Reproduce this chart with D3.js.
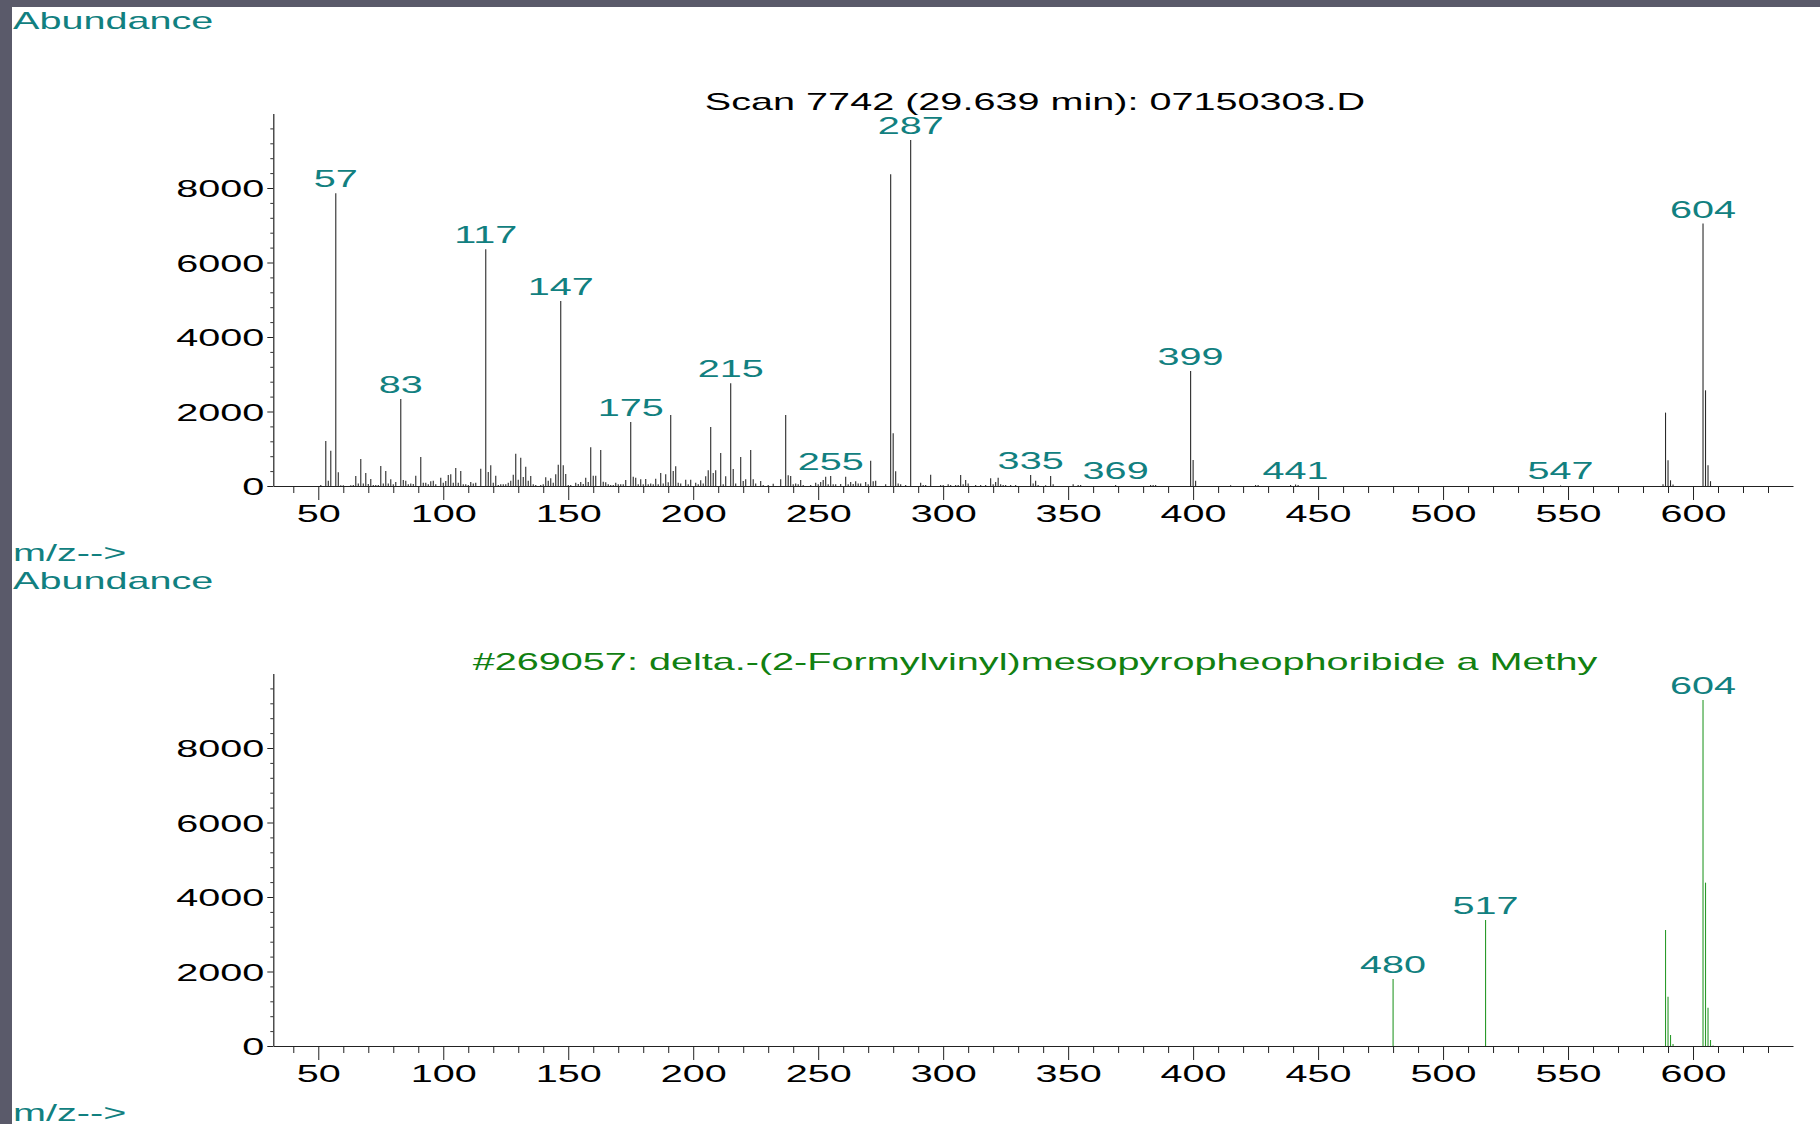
<!DOCTYPE html>
<html>
<head>
<meta charset="utf-8">
<script src="https://cdn.jsdelivr.net/npm/d3@7"></script>
<style>
  body { margin: 0; background: #ffffff; }
  svg { display: block; }
</style>
</head>
<body>
<div id="chart-container"></div>
<script>
// Scan spectrum (m/z, abundance)
const scanMz = [51,53,54,55,57,58,59,60,63,64,65,66,67,68,69,70,71,72,73,74,75,76,77,78,79,80,81,83,84,85,86,87,88,89,91,92,93,94,95,96,97,99,100,101,102,103,104,105,106,107,108,109,110,111,112,113,115,117,118,119,120,121,122,123,124,125,126,127,128,129,130,131,132,133,134,135,136,137,139,140,141,142,143,144,145,146,147,148,149,150,151,153,154,155,156,157,158,159,160,161,163,164,165,166,167,168,169,170,171,172,173,175,176,177,178,179,180,181,182,183,184,185,186,187,188,189,190,191,192,193,194,195,197,198,199,201,202,203,204,205,206,207,208,209,211,212,213,215,216,217,219,220,221,223,224,225,227,228,230,232,235,237,238,239,240,241,242,243,244,247,249,250,251,252,253,254,255,256,257,259,261,262,263,264,265,266,267,269,270,271,272,273,277,279,280,281,282,283,285,287,291,292,293,295,299,300,302,303,305,306,307,308,309,310,313,315,317,319,320,321,322,323,324,325,327,329,335,336,337,338,341,343,344,352,354,355,369,383,384,385,399,400,401,415,425,426,439,441,442,547,588,589,590,591,592,604,605,606,607];
const scanAb = [27,1208,143,949,7857,367,20,20,20,25,268,70,725,70,349,54,188,30,30,30,537,70,403,70,179,45,107,2336,161,143,45,70,54,277,779,90,90,45,125,143,45,224,90,134,295,313,90,483,90,403,45,45,27,107,70,90,465,6354,376,555,90,277,27,45,45,45,90,143,304,868,170,760,242,519,143,268,45,27,27,45,233,143,206,90,313,573,4966,555,322,27,27,90,54,107,54,224,107,1038,277,277,967,116,98,45,27,27,90,45,45,45,161,1718,250,224,45,179,45,188,45,70,45,197,45,349,70,313,98,1906,403,528,90,70,170,45,170,90,45,152,70,260,420,1584,349,420,886,45,260,2757,456,70,779,134,179,967,179,70,134,27,27,63,179,1906,286,268,45,70,45,161,27,27,90,45,107,161,250,45,268,45,45,54,250,45,107,54,125,70,70,107,45,680,125,143,45,8368,1414,394,70,45,27,9289,90,27,27,304,27,27,45,27,27,27,295,45,161,70,27,27,27,206,45,107,224,45,27,27,27,27,295,70,143,27,20,268,45,45,27,27,27,27,27,27,3087,698,143,20,30,30,30,40,30,15,50,1970,690,153,40,7044,2569,556,130];
const scanLabels = [57,83,117,147,175,215,255,287,335,369,399,441,547,604];
const scanTitle = 'Scan 7742 (29.639 min): 07150303.D';

// Library match spectrum
const libMz = [480,517,589,590,591,592,604,605,606,607,608];
const libAb = [1799,3383,3114,1324,295,54,9289,4385,1029,161,15];
const libLabels = [480,517,604];
const libTitle = '#269057: delta.-(2-Formylvinyl)mesopyropheophoribide a Methy';

// Axis ticks
const xMajorTicks = [50,100,150,200,250,300,350,400,450,500,550,600];
const xMinorTicks = d3.range(40, 631, 10).filter(v => v % 50 !== 0);
const yMajorTicks = [0,2000,4000,6000,8000];
const yMinorTicks = d3.range(400, 9601, 400).filter(v => v % 2000 !== 0);

const width = 1820;
const height = 1124;
const stretch = 1.65; // text in the screenshot is stretched horizontally
const teal = '#118080';
const fontFam = '"Liberation Sans", Arial, sans-serif';

const svg = d3.select('#chart-container')
  .append('svg')
  .attr('width', width)
  .attr('height', height);

svg.append('rect').attr('width', width).attr('height', height).attr('fill', '#ffffff');
// slide frame
svg.append('rect').attr('x', 0).attr('y', 0).attr('width', 12).attr('height', height).attr('fill', '#5a5a6a');
svg.append('rect').attr('x', 0).attr('y', 0).attr('width', width).attr('height', 7).attr('fill', '#5a5a6a');

const x = d3.scaleLinear().domain([32, 640]).range([273.3, 1793]);
const y = d3.scaleLinear().domain([0, 10000]).range([486, 113.5]);

function addText(g, tx, ty, str, color, anchor) {
  return g.append('text')
    .attr('transform', `translate(${tx},${ty}) scale(${stretch},1)`)
    .attr('text-anchor', anchor || 'start')
    .style('font-family', fontFam)
    .style('font-size', '24px')
    .attr('fill', color)
    .text(str);
}

function drawPanel(offsetY, mz, ab, labels, lineColor, title, titleColor) {
  const g = svg.append('g').attr('transform', `translate(0,${offsetY})`);

  addText(g, 13, 29, 'Abundance', teal);
  addText(g, 13, 561, 'm/z-->', teal);
  addText(g, 1035, 110, title, titleColor, 'middle');

  // x axis: minor + major ticks
  g.append('g')
    .attr('transform', `translate(0,${y(0)})`)
    .call(d3.axisBottom(x).tickValues(xMinorTicks).tickSize(7).tickSizeOuter(0).tickFormat(''))
    .call(a => a.select('.domain').remove())
    .selectAll('line').attr('stroke', '#222');

  const xa = g.append('g')
    .attr('transform', `translate(0,${y(0)})`)
    .call(d3.axisBottom(x).tickValues(xMajorTicks).tickSize(14).tickSizeOuter(0).tickFormat(d3.format('d')));
  xa.select('.domain').attr('stroke', '#222').attr('stroke-width', 1.2);
  xa.selectAll('line').attr('stroke', '#222');
  xa.selectAll('text')
    .attr('y', null).attr('dy', null)
    .attr('transform', `translate(0,36) scale(${stretch},1)`)
    .style('font-family', fontFam)
    .style('font-size', '24px')
    .attr('fill', '#000');

  // y axis
  g.append('g')
    .attr('transform', `translate(${x(32)},0)`)
    .call(d3.axisLeft(y).tickValues(yMinorTicks).tickSize(3).tickSizeOuter(0).tickFormat(''))
    .call(a => a.select('.domain').remove())
    .selectAll('line').attr('stroke', '#333');

  const ya = g.append('g')
    .attr('transform', `translate(${x(32)},0)`)
    .call(d3.axisLeft(y).tickValues(yMajorTicks).tickSize(6).tickSizeOuter(0).tickFormat(d3.format('d')));
  ya.select('.domain').attr('stroke', '#222').attr('stroke-width', 1.2);
  ya.selectAll('line').attr('stroke', '#222');
  ya.selectAll('text')
    .attr('x', null).attr('dy', '0.36em')
    .attr('transform', `translate(-9,0) scale(${stretch},1)`)
    .style('font-family', fontFam)
    .style('font-size', '24px')
    .attr('fill', '#000');

  const data = mz.map((m, i) => ({ mz: m, ab: ab[i] }));

  // peaks
  g.append('g')
    .selectAll('line')
    .data(data)
    .join('line')
    .attr('x1', d => x(d.mz))
    .attr('x2', d => x(d.mz))
    .attr('y1', y(0))
    .attr('y2', d => y(d.ab))
    .attr('stroke', lineColor)
    .attr('stroke-width', 1.1);

  // peak labels
  const lab = data.filter(d => labels.includes(d.mz));
  lab.forEach(d => addText(g, x(d.mz), y(d.ab) - 6, String(d.mz), teal, 'middle'));
}

drawPanel(0, scanMz, scanAb, scanLabels, '#2a2a2a', scanTitle, '#000000');
drawPanel(560, libMz, libAb, libLabels, '#2a9a2a', libTitle, '#118011');
</script>
</body>
</html>
